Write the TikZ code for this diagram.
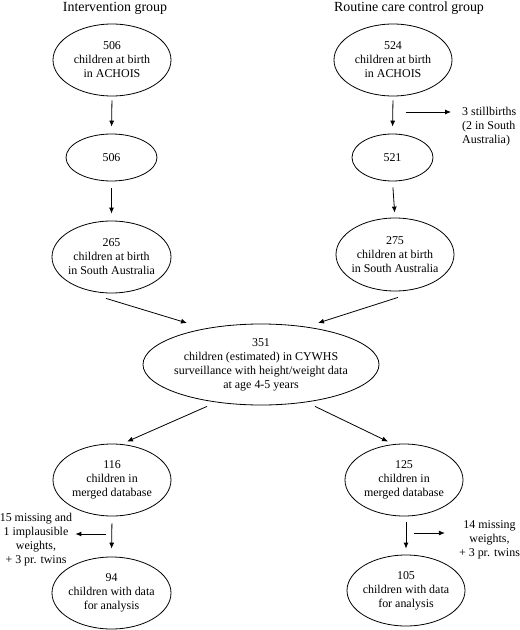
\documentclass[tikz,border=0pt]{standalone}
\usepackage{fontspec}
\setmainfont{Liberation Serif}
\usetikzlibrary{shapes.geometric,arrows.meta,calc}
\begin{document}
\begin{tikzpicture}[x=1bp,y=-1bp,
 ell/.style={draw,ellipse,inner xsep=-6bp,inner ysep=0pt,align=center,font=\fontsize{12}{14}\selectfont,line width=0.8bp},
 arr/.style={-{Latex[length=6bp,width=5bp]},line width=0.8bp},
 lbl/.style={align=center,font=\fontsize{12}{14}\selectfont,inner sep=0pt},
 ttl/.style={font=\fontsize{14}{16}\selectfont,inner sep=0pt}]
\useasboundingbox (0,0) rectangle (520,630);
\node[ttl] (t1) at (115,8) {Intervention group};
\node[ttl] (t2) at (409,8) {Routine care control group};

\node[ell,minimum width=118bp,minimum height=72bp] (A1) at (112,60) {506\\children at birth\\in ACHOIS};
\node[ell,minimum width=118bp,minimum height=72bp] (B1) at (393,60) {524\\children at birth\\in ACHOIS};
\node[ell,minimum width=91bp,minimum height=47bp] (A2) at (111.5,157.5) {506};
\node[ell,minimum width=81bp,minimum height=47bp] (B2) at (392.5,157.5) {521};
\node[ell,minimum width=119bp,minimum height=72bp] (A3) at (111.5,257) {265\\children at birth\\in South Australia};
\node[ell,minimum width=118bp,minimum height=73bp] (B3) at (395,254.5) {275\\children at birth\\in South Australia};
\node[ell,minimum width=236bp,minimum height=81bp] (C) at (261,364.5) {351\\children (estimated) in CYWHS\\surveillance with height/weight data\\at age 4-5 years};
\node[ell,minimum width=118bp,minimum height=72bp] (A4) at (112,480) {116\\children in\\merged database};
\node[ell,minimum width=118bp,minimum height=72bp] (B4) at (404,480) {125\\children in\\merged database};
\node[ell,minimum width=119bp,minimum height=72bp] (A5) at (111.5,593) {94\\children with data\\for analysis};
\node[ell,minimum width=118bp,minimum height=71bp] (B5) at (406,590.5) {105\\children with data\\for analysis};

\node[lbl,align=left,anchor=west] (S) at (462,127) {3 stillbirths\\(2 in South\\Australia)};
\node[lbl] (L) at (36,540) {15 missing and\\1 implausible\\weights,\\+ 3 pr. twins};
\node[lbl] (R) at (489.5,539.5) {14 missing\\weights,\\+ 3 pr. twins};

\draw[arr,shorten <=4bp,shorten >=7bp] (A1.south) -- (A2.north);
\draw[arr,shorten <=4bp,shorten >=7bp] (B1.south) -- (B2.north);
\draw[arr,shorten <=7bp,shorten >=7bp] (A2.south) -- (A3.north);
\draw[arr,shorten <=6bp,shorten >=5bp] (B2.south) -- (B3.north);

\coordinate (sb) at (406,112);
\draw[arr,shorten >=11bp] (sb) -- (sb -| S.west);

\draw[arr] ($(A3.south)+(-5.5,5)$) -- ($(C.center)+(-74,-41.5)$);
\draw[arr] ($(B3.south)+(3,6)$) -- ($(C.center)+(57,-41.5)$);
\draw[arr] ($(C.south)+(-54,1)$) -- ($(A4.north)+(15,-2)$);
\draw[arr] ($(C.south)+(54,1)$) -- ($(B4.north)+(-16,-2)$);

\draw[arr,shorten <=7bp,shorten >=8bp] (A4.south) -- (A5.north);
\draw[arr,shorten <=6bp,shorten >=6bp] (B5.north |- B4.south) -- (B5.north);

\coordinate (la) at (106,534);
\draw[arr,shorten >=3bp] (la) -- (la -| L.east);
\coordinate (ra) at (414,533);
\draw[arr,shorten >=14bp] (ra) -- (ra -| R.west);
\end{tikzpicture}
\end{document}
